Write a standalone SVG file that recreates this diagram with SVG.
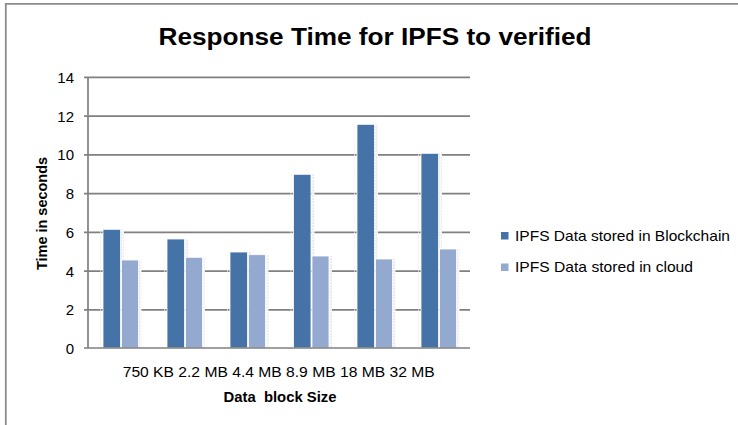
<svg xmlns="http://www.w3.org/2000/svg" width="738" height="425" viewBox="0 0 738 425">
<style>
text{font-family:"Liberation Sans",Arial,sans-serif;fill:#000}
.grid{stroke:#808080;stroke-width:1.7}
.frame{stroke:#8c8c8c;stroke-width:1.8;fill:none}
.tick{font-size:15px;text-anchor:end}
.b1{fill:#4572A7;stroke:#fff;stroke-width:0.8}
.b2{fill:#93A9CF;stroke:#fff;stroke-width:0.8}
.sh{fill:url(#dots)}
.lbl{font-size:15px}
.bold{font-weight:bold}
</style>
<defs>
<pattern id="dots" width="3" height="3" patternUnits="userSpaceOnUse">
<rect width="3" height="3" fill="#fff"/>
<rect x="0.5" y="0.5" width="1" height="1" fill="#b8b8b8"/>
<rect x="1.5" y="1.5" width="1" height="1" fill="#dcdcdc"/>
</pattern>
</defs>
<rect width="738" height="425" fill="#fff"/>
<path class="frame" d="M738 3.8H5.8V425"/>
<g id="title"><text x="375" y="45" text-anchor="middle" font-size="23" font-weight="bold" textLength="433" lengthAdjust="spacingAndGlyphs">Response Time for IPFS to verified</text></g>
<g id="gridlines">
<path class="grid" d="M84 77.3H470M84 116.1H470M84 154.8H470M84 193.6H470M84 232.3H470M84 271.1H470M84 309.8H470"/>
</g>
<g id="shadows">
<rect class="sh" x="121" y="229.3" width="3" height="31"/><rect class="sh" x="138.5" y="260" width="3" height="88"/><rect x="100" y="229.3" width="1" height="118.7" fill="url(#dots)" opacity="0.6"/>
<rect class="sh" x="185" y="239" width="3" height="18"/><rect class="sh" x="202" y="257.3" width="3" height="90.7"/><rect x="164" y="239" width="1" height="109" fill="url(#dots)" opacity="0.6"/>
<rect class="sh" x="248" y="252" width="3" height="3"/><rect class="sh" x="265.5" y="254.7" width="3" height="93.3"/><rect x="227" y="252" width="1" height="96" fill="url(#dots)" opacity="0.6"/>
<rect class="sh" x="311.5" y="174.3" width="3" height="82"/><rect class="sh" x="329" y="256" width="3" height="92"/><rect x="290.5" y="174.3" width="1" height="173.7" fill="url(#dots)" opacity="0.6"/>
<rect class="sh" x="375" y="124.3" width="3" height="135"/><rect class="sh" x="392.5" y="259" width="3" height="89"/><rect x="354" y="124.3" width="1" height="223.7" fill="url(#dots)" opacity="0.6"/>
<rect class="sh" x="439" y="153.3" width="3" height="96"/><rect class="sh" x="456.5" y="249" width="3" height="99"/><rect x="418" y="153.3" width="1" height="194.7" fill="url(#dots)" opacity="0.6"/>
</g>
<g id="series-blockchain">
<rect class="b1" x="103" y="229.3" width="17.5" height="118.7"/>
<rect class="b1" x="167" y="239" width="17.5" height="109"/>
<rect class="b1" x="230" y="252" width="17.5" height="96"/>
<rect class="b1" x="293.5" y="174.3" width="17.5" height="173.7"/>
<rect class="b1" x="357" y="124.3" width="17.5" height="223.7"/>
<rect class="b1" x="421" y="153.3" width="17.5" height="194.7"/>
</g>
<g id="series-cloud">
<rect class="b2" x="121.5" y="260" width="17" height="88"/>
<rect class="b2" x="185.5" y="257.3" width="17" height="90.7"/>
<rect class="b2" x="248.5" y="254.7" width="17" height="93.3"/>
<rect class="b2" x="312" y="256" width="17" height="92"/>
<rect class="b2" x="375.5" y="259" width="17" height="89"/>
<rect class="b2" x="439.5" y="249" width="17" height="99"/>
</g>
<g id="axes">
<path class="grid" d="M88 77.3V348M84 348H470"/>
</g>
<g id="y-labels">
<text class="tick" x="74" y="82.5">14</text>
<text class="tick" x="74" y="121.5">12</text>
<text class="tick" x="74" y="160">10</text>
<text class="tick" x="74" y="199">8</text>
<text class="tick" x="74" y="237.5">6</text>
<text class="tick" x="74" y="276.5">4</text>
<text class="tick" x="74" y="315">2</text>
<text class="tick" x="74" y="353.5">0</text>
</g>
<g id="x-labels"><text class="lbl" x="122.7" y="376.5" textLength="312" lengthAdjust="spacingAndGlyphs">750 KB 2.2 MB 4.4 MB 8.9 MB 18 MB 32 MB</text></g>
<g id="x-title"><text class="lbl bold" x="280" y="402" text-anchor="middle" textLength="113" lengthAdjust="spacingAndGlyphs" style="white-space:pre">Data  block Size</text></g>
<g id="y-title"><text class="lbl bold" transform="translate(46.5 213.5) rotate(-90)" text-anchor="middle" textLength="113" lengthAdjust="spacingAndGlyphs">Time in seconds</text></g>
<g id="legend">
<rect x="501" y="232" width="7.5" height="7.5" fill="#4572A7"/>
<text class="lbl" x="515" y="240.5" textLength="215" lengthAdjust="spacingAndGlyphs">IPFS Data stored in Blockchain</text>
<rect x="501" y="263.5" width="7.5" height="7.5" fill="#93A9CF"/>
<text class="lbl" x="515" y="272" textLength="178" lengthAdjust="spacingAndGlyphs">IPFS Data stored in cloud</text>
</g>
</svg>
